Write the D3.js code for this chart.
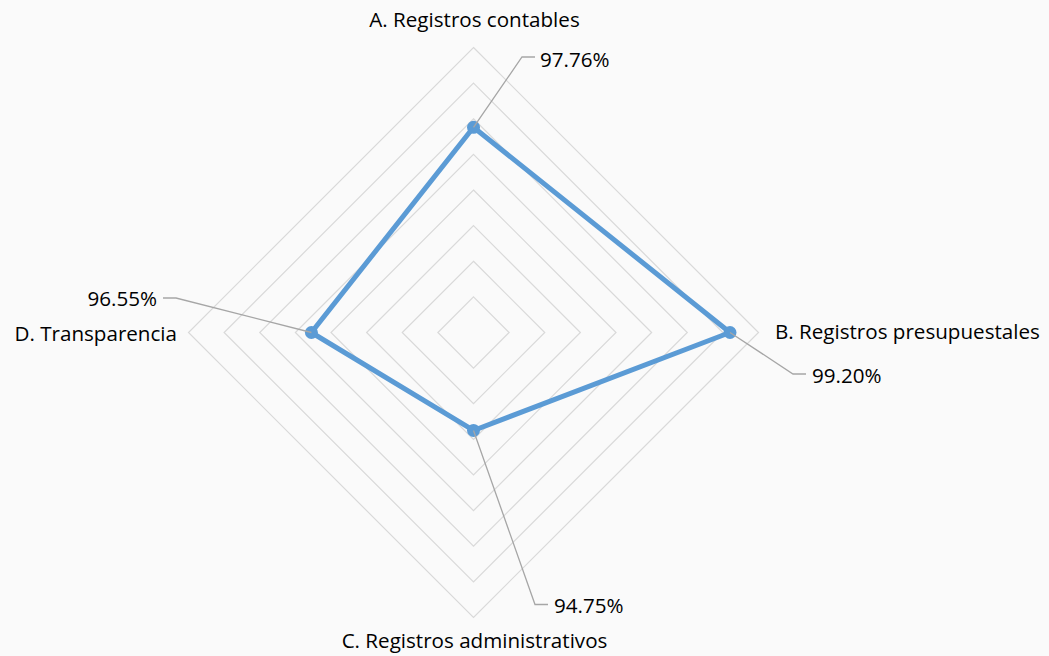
<!DOCTYPE html>
<html><head><meta charset="utf-8">
<script src="https://cdn.jsdelivr.net/npm/d3@7"></script>
<style>
html,body{margin:0;padding:0;background:#fafafa;}
svg{display:block;}
text{font-family:"Open Sans",Lato,sans-serif;fill:#000;}
</style></head>
<body>
<svg id="chart" width="1049" height="656"></svg>
<script>
const categories = ["A. Registros contables","B. Registros presupuestales","C. Registros administrativos","D. Transparencia"];
const values = [97.76, 99.20, 94.75, 96.55];
const valueLabels = ["97.76%","99.20%","94.75%","96.55%"];
const gridTicks = [93,94,95,96,97,98,99,100];
const scaleMin = 92, scaleMax = 100;

const svg = d3.select("#chart");
const W = 1049, H = 656;
svg.append("rect").attr("width",W).attr("height",H).attr("fill","#fafafa");

const cx = 473.5, cy = 332.5, R = 285;
const r = d3.scaleLinear().domain([scaleMin, scaleMax]).range([0, R]);
const angle = i => -Math.PI/2 + i*2*Math.PI/categories.length;
const pt = (i, v) => [cx + r(v)*Math.cos(angle(i)), cy + r(v)*Math.sin(angle(i))];

const g = svg.append("g");
g.selectAll("path.ring").data(gridTicks).join("path")
  .attr("class","ring")
  .attr("d", t => d3.line()(categories.map((c,i)=>pt(i,t))) + "Z")
  .attr("fill","none").attr("stroke","#d9d9d9").attr("stroke-width",1.2);

const pts = values.map((v,i)=>pt(i,v));
g.append("path").attr("d", d3.line()(pts)+"Z")
  .attr("fill","none").attr("stroke","#5b9bd5").attr("stroke-width",5).attr("stroke-linejoin","round");
g.selectAll("circle.m").data(values).join("circle")
  .attr("class","m")
  .attr("cx",(v,i)=>pt(i,v)[0]).attr("cy",(v,i)=>pt(i,v)[1])
  .attr("r",6.5).attr("fill","#5b9bd5");

const catPos = [
  {x:cx+1, y:27, anchor:"middle"},
  {x:775, y:339, anchor:"start"},
  {x:cx+1, y:648, anchor:"middle"},
  {x:177, y:341, anchor:"end"}
];
svg.selectAll("text.cat").data(categories).join("text")
  .attr("class","cat")
  .attr("x",(d,i)=>catPos[i].x).attr("y",(d,i)=>catPos[i].y)
  .attr("text-anchor",(d,i)=>catPos[i].anchor)
  .attr("font-size",20.6).text(d=>d);

const lab = [
  {tx:540, ty:67, anchor:"start", elbow:[[522,57],[535,57]]},
  {tx:812, ty:383, anchor:"start", elbow:[[793,374],[806,374]]},
  {tx:554, ty:613, anchor:"start", elbow:[[535,604.5],[548,604.5]]},
  {tx:157, ty:306, anchor:"end", elbow:[[176,298],[163,298]]}
];
values.forEach((v,i)=>{
  const p = pt(i,v);
  svg.append("path")
    .attr("d", d3.line()([p, ...lab[i].elbow]))
    .attr("fill","none").attr("stroke","#a6a6a6").attr("stroke-width",1.3);
});
svg.selectAll("text.val").data(valueLabels).join("text")
  .attr("class","val")
  .attr("x",(d,i)=>lab[i].tx).attr("y",(d,i)=>lab[i].ty)
  .attr("text-anchor",(d,i)=>lab[i].anchor)
  .attr("font-size",20.6).text(d=>d);
</script>
</body></html>
